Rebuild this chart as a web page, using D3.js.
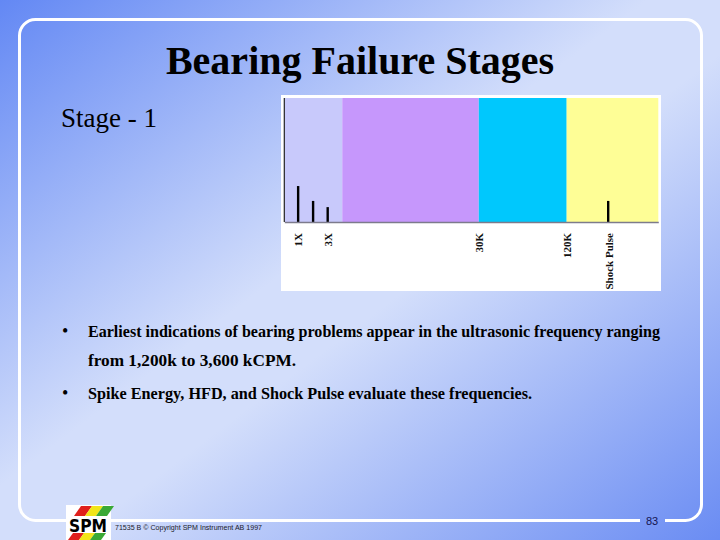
<!DOCTYPE html>
<html>
<head>
<meta charset="utf-8">
<script src="https://cdn.jsdelivr.net/npm/d3@7"></script>
<style>
  html, body { margin: 0; padding: 0; }
  svg { display: block; }
</style>
</head>
<body>
<script>
// ---- data ----
const titleText = "Bearing Failure Stages";
const stageText = "Stage - 1";
const zoneNames = ["Machine", "Mid", "Ultrasonic", "Shock Pulse"];
const zoneStart = [0, 15.5, 52, 75.5];
const zoneEnd = [15.5, 52, 75.5, 100];
const zoneColors = ["#c8c9fb", "#c697fc", "#00c8fd", "#fefe96"];
const spikeNames = ["1X", "2X", "3X", "Shock Pulse"];
const spikeFreq = [3.7, 7.7, 11.6, 86.6];
const spikeAmp = [29, 17, 12, 17];
const tickLabels = ["1X", "3X", "30K", "120K", "Shock Pulse"];
const tickValues = [3.7, 11.6, 52, 75.5, 86.6];
const bullets = [
  ["Earliest indications of bearing problems appear in the ultrasonic frequency ranging",
   "from 1,200k to 3,600 kCPM."],
  ["Spike Energy, HFD, and Shock Pulse evaluate these frequencies."]
];
const footerText = "71535 B \u00A9 Copyright SPM Instrument AB 1997";
const pageNumber = "83";

// ---- drawing ----
const SERIF = "'Liberation Serif', 'Times New Roman', serif";
const SANS = "'Liberation Sans', Arial, sans-serif";
const W = 720, H = 540;
const svg = d3.select("body").append("svg").attr("width", W).attr("height", H);
const defs = svg.append("defs");
const grad = defs.append("linearGradient").attr("id", "bg")
  .attr("x1", 0).attr("y1", 0).attr("x2", 1).attr("y2", 1);
grad.append("stop").attr("offset", 0).attr("stop-color", "#6388f4");
grad.append("stop").attr("offset", 0.45).attr("stop-color", "#d3defb");
grad.append("stop").attr("offset", 0.55).attr("stop-color", "#d3defb");
grad.append("stop").attr("offset", 1).attr("stop-color", "#6a8cf3");
svg.append("rect").attr("width", W).attr("height", H).attr("fill", "url(#bg)");

// frame
const L = 19.5, T = 19.5, R = 701.5, B = 520.5, r = 16;
const frame = d3.path();
frame.moveTo(640, B);
frame.lineTo(L + r, B);
frame.arcTo(L, B, L, B - r, r);
frame.lineTo(L, T + r);
frame.arcTo(L, T, L + r, T, r);
frame.lineTo(R - r, T);
frame.arcTo(R, T, R, T + r, r);
frame.lineTo(R, B - r);
frame.arcTo(R, B, R - r, B, r);
frame.lineTo(665, B);
svg.append("path").attr("d", frame.toString()).attr("fill", "none")
  .attr("stroke", "#ffffff").attr("stroke-width", 3);

// title
svg.append("text").attr("x", 360).attr("y", 74).attr("text-anchor", "middle")
  .style("font-family", SERIF)
  .attr("font-weight", "bold").attr("font-size", 40).attr("fill", "#000")
  .text(titleText);
svg.append("text").attr("x", 61).attr("y", 127)
  .style("font-family", SERIF)
  .attr("font-size", 27).attr("fill", "#000")
  .text(stageText);

// chart box
svg.append("rect").attr("x", 281).attr("y", 95).attr("width", 380).attr("height", 196)
  .attr("fill", "#ffffff");

const x = d3.scaleLinear().domain([0, 100]).range([284.3, 658.3]);
const y = d3.scaleLinear().domain([0, 100]).range([222, 98]);

const g = svg.append("g");
g.selectAll("rect.zone").data(zoneNames).join("rect").attr("class", "zone")
  .attr("x", (d, i) => x(zoneStart[i]))
  .attr("width", (d, i) => x(zoneEnd[i]) - x(zoneStart[i]))
  .attr("y", y(100)).attr("height", y(0) - y(100))
  .attr("fill", (d, i) => zoneColors[i]);

// left axis line
g.append("line").attr("x1", x(0)).attr("x2", x(0)).attr("y1", y(100)).attr("y2", y(0))
  .attr("stroke", "#222").attr("stroke-width", 1.2);

// spikes
g.selectAll("line.spike").data(spikeNames).join("line").attr("class", "spike")
  .attr("x1", (d, i) => x(spikeFreq[i])).attr("x2", (d, i) => x(spikeFreq[i]))
  .attr("y1", y(0)).attr("y2", (d, i) => y(spikeAmp[i]))
  .attr("stroke", "#000").attr("stroke-width", 2.4);

// bottom axis
const axis = d3.axisBottom(x).tickValues(tickValues)
  .tickFormat((d, i) => tickLabels[i]).tickSize(0).tickSizeOuter(0);
const ax = g.append("g").attr("transform", `translate(0,${y(0)})`).call(axis);
ax.select(".domain").attr("stroke", "#7d7b8c").attr("stroke-width", 1.6);
ax.selectAll("text")
  .attr("transform", "rotate(-90)")
  .attr("x", -11).attr("y", 0).attr("dy", "0.35em")
  .attr("text-anchor", "end")
  .style("font-family", SERIF)
  .attr("font-size", 11).attr("font-weight", "bold").attr("fill", "#111");

// bullets
const lineY = [[337, 366], [399]];
const lineLen = [[572, 208], [444]];
bullets.forEach((lines, bi) => {
  svg.append("text").attr("x", 62).attr("y", lineY[bi][0])
    .style("font-family", SERIF).attr("font-size", 18).attr("fill", "#000")
    .text("\u2022");
  lines.forEach((t, li) => {
    svg.append("text").attr("x", 88).attr("y", lineY[bi][li])
      .style("font-family", SERIF).attr("font-weight", "bold")
      .attr("font-size", 16).attr("fill", "#000")
      .attr("textLength", lineLen[bi][li]).attr("lengthAdjust", "spacingAndGlyphs")
      .text(t);
  });
});

// logo
const logo = svg.append("g");
logo.append("rect").attr("x", 66).attr("y", 505).attr("width", 45).attr("height", 35).attr("fill", "#fff");
const stripeCols = ["#e0201c", "#f2e51a", "#3aa935"];
stripeCols.forEach((c, i) => {
  const ox = 74 + i * 11;
  logo.append("path").attr("d", `M${ox},516 L${ox + 11},516 L${ox + 18},506 L${ox + 7},506 Z`).attr("fill", c);
  logo.append("path").attr("d", `M${ox - 6},540 L${ox + 5},540 L${ox + 10},533 L${ox - 1},533 Z`).attr("fill", c);
});
logo.append("text").attr("x", 69).attr("y", 532)
  .style("font-family", "'DejaVu Sans', Arial, sans-serif").attr("font-weight", "bold")
  .attr("font-size", 17).attr("fill", "#000")
  .attr("textLength", 38).attr("lengthAdjust", "spacingAndGlyphs").text("SPM");

// footer
svg.append("text").attr("x", 115).attr("y", 530)
  .style("font-family", SANS).attr("font-size", 7)
  .attr("fill", "#1a1a2a").attr("textLength", 147).attr("lengthAdjust", "spacingAndGlyphs")
  .text(footerText);
svg.append("text").attr("x", 652).attr("y", 525).attr("text-anchor", "middle")
  .style("font-family", SANS).attr("font-size", 11)
  .attr("fill", "#141450").text(pageNumber);
</script>
</body>
</html>
